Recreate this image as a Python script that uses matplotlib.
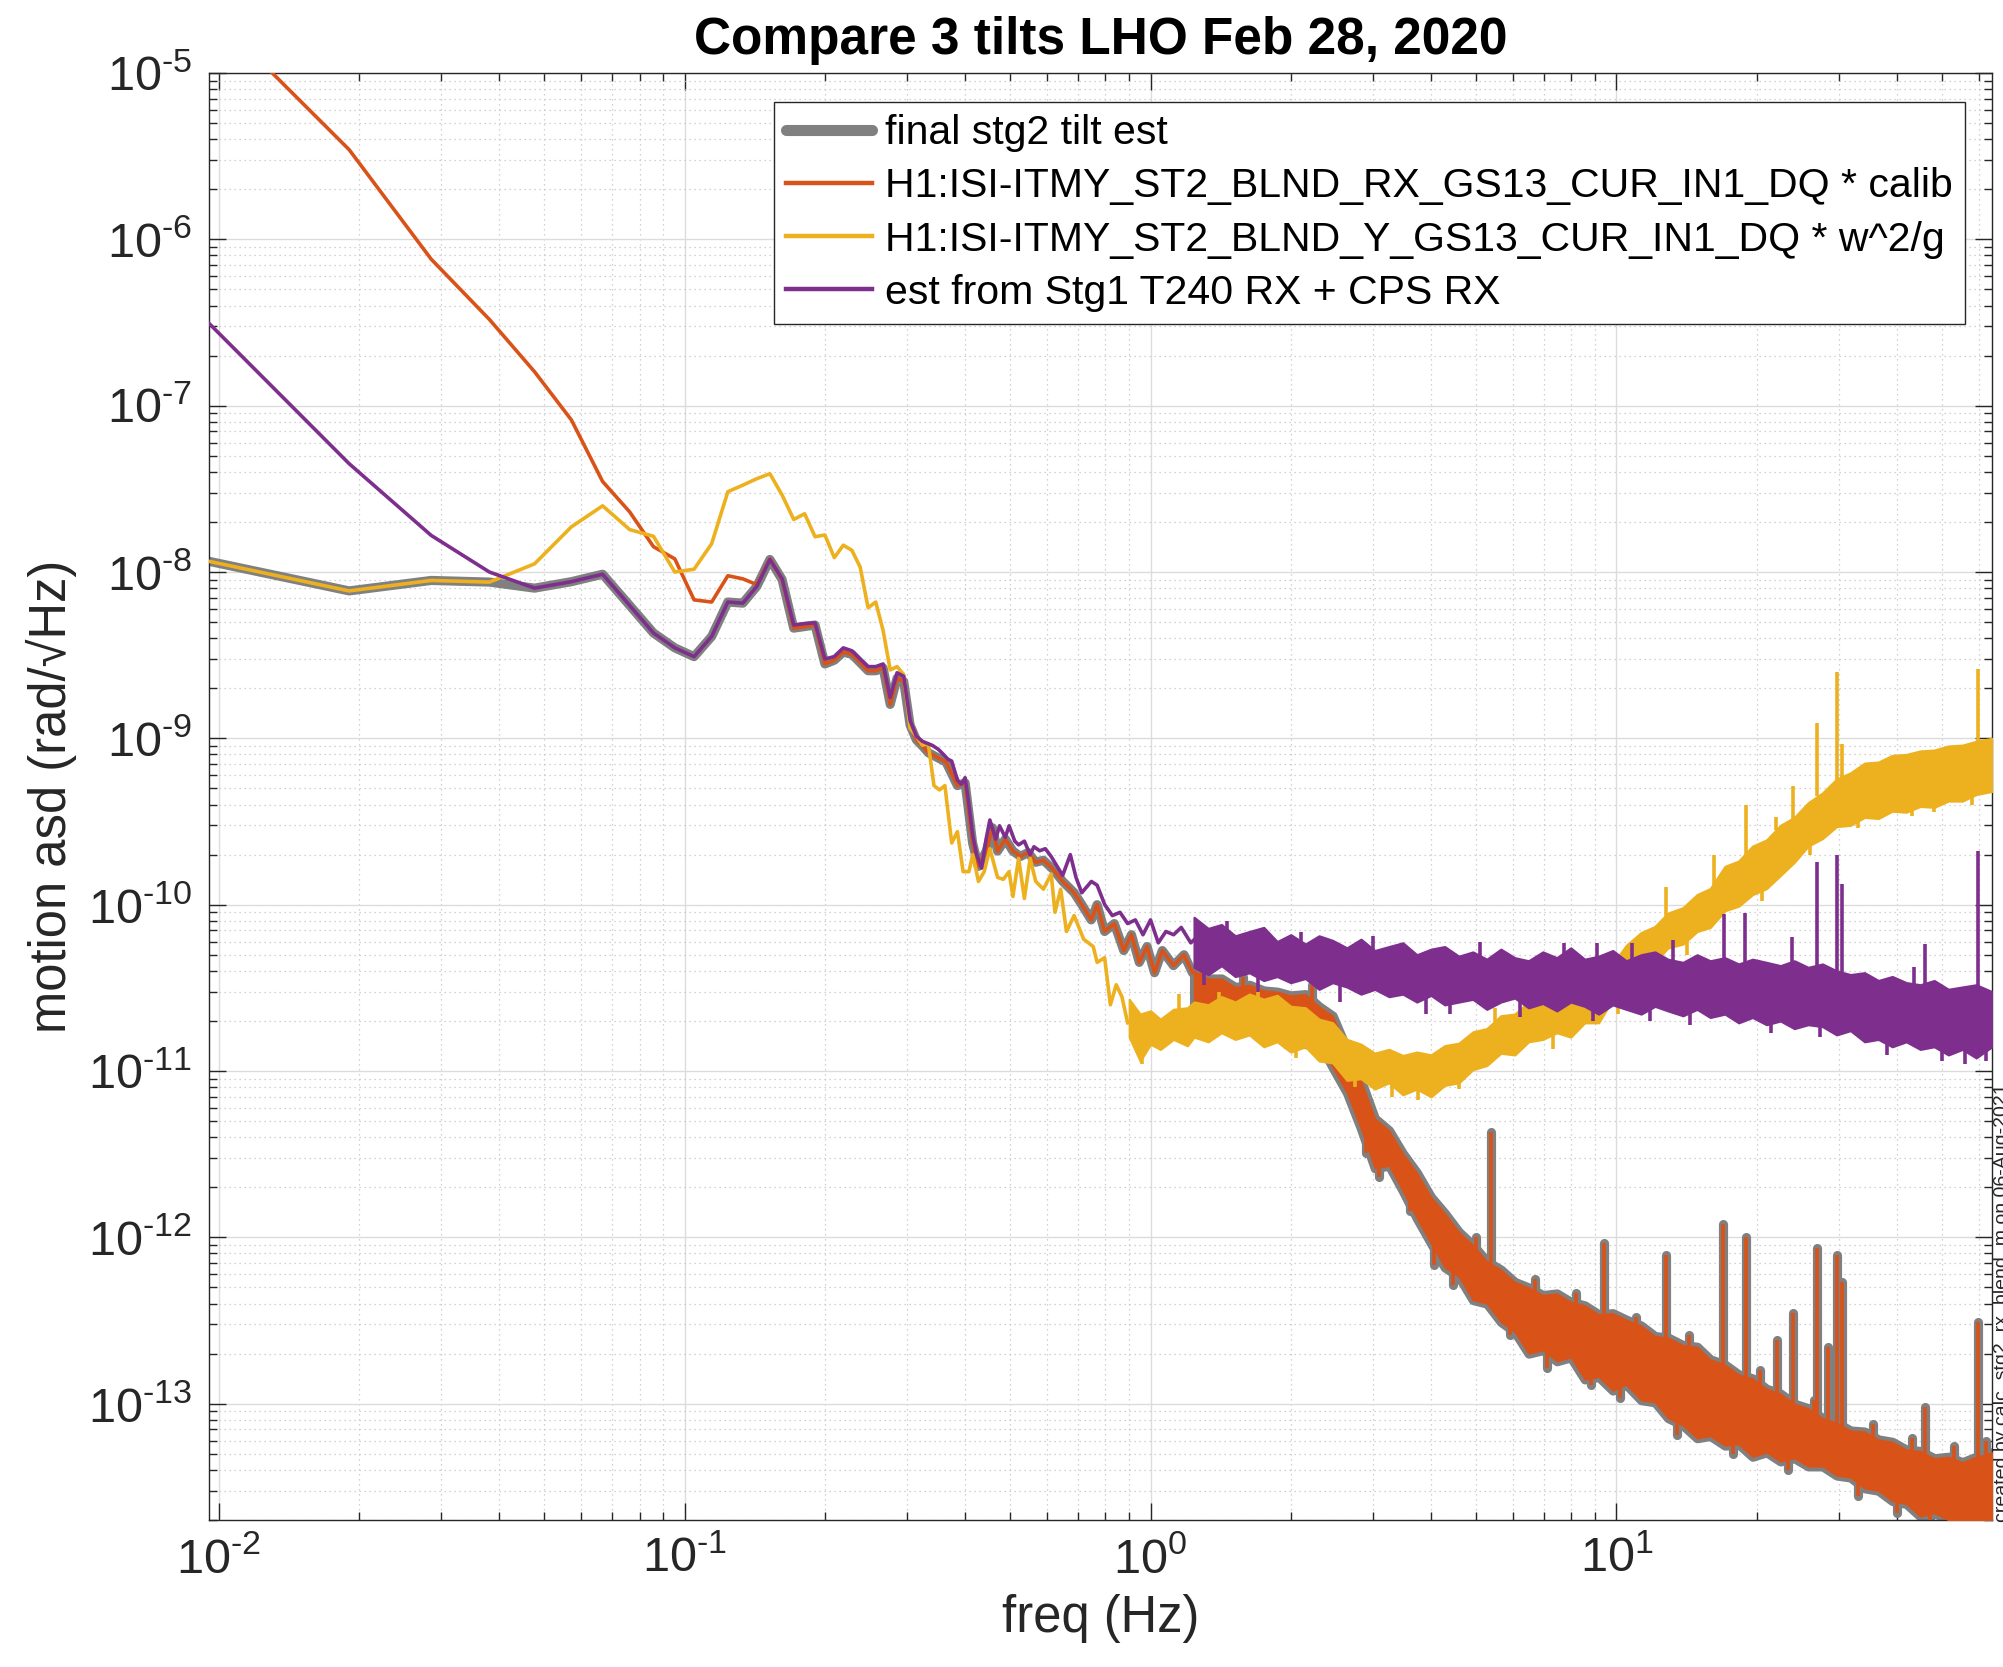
import numpy as np
import matplotlib
matplotlib.use("Agg")
import matplotlib.pyplot as plt
from matplotlib.ticker import LogLocator, FuncFormatter, NullFormatter

plt.rcParams['font.family'] = ['Liberation Sans', 'DejaVu Sans']
plt.rcParams['mathtext.fontset'] = 'custom'
plt.rcParams['mathtext.rm'] = 'Liberation Sans'
plt.rcParams['mathtext.it'] = 'Liberation Sans:italic'
plt.rcParams['mathtext.bf'] = 'Liberation Sans:bold'
plt.rcParams['axes.unicode_minus'] = False

# ---------------- data ----------------
BIN_WIDTH = 1 / 105.0   # Hz, frequency resolution of the ASDs

labels = [
    'final stg2 tilt est',
    'H1:ISI-ITMY_ST2_BLND_RX_GS13_CUR_IN1_DQ * calib',
    'H1:ISI-ITMY_ST2_BLND_Y_GS13_CUR_IN1_DQ * w^2/g',
    'est from Stg1 T240 RX + CPS RX',
]

# low-frequency bins (k = 1, 2, 3 ...) , rad/rtHz
orange_bins = [2.4e-5, 3.46e-6, 7.6e-7, 3.3e-7, 1.6e-7, 8.2e-8, 3.5e-8, 2.3e-8, 1.42e-8, 1.2e-8,
               6.8e-9, 6.6e-9, 9.5e-9, 9.1e-9, 8.4e-9, 1.2e-8, 9.0e-9, 4.6e-9, 4.7e-9, 4.8e-9,
               2.8e-9, 2.95e-9, 3.3e-9, 3.2e-9, 2.85e-9, 2.55e-9, 2.55e-9, 2.65e-9, 1.6e-9, 2.3e-9,
               2.2e-9, 1.2e-9, 9.8e-10, 9.0e-10, 8.2e-10]
yellow_bins = [1.16e-8, 7.7e-9, 8.9e-9, 8.7e-9, 1.12e-8, 1.87e-8, 2.5e-8, 1.8e-8, 1.64e-8, 1.0e-8,
               1.04e-8, 1.48e-8, 3.04e-8, 3.33e-8, 3.64e-8, 3.9e-8, 2.9e-8, 2.07e-8, 2.24e-8, 1.63e-8,
               1.67e-8, 1.22e-8, 1.45e-8, 1.35e-8, 1.07e-8, 6.1e-9, 6.6e-9, 4.45e-9, 2.58e-9, 2.7e-9,
               2.42e-9, 1.15e-9, 1.03e-9, 9.1e-10, 9.3e-10, 5.2e-10, 4.9e-10, 5.2e-10]
purple_bins = [3.13e-7, 4.48e-8, 1.66e-8, 1.0e-8, 8.0e-9, 8.75e-9, 9.7e-9, 6.3e-9, 4.3e-9, 3.5e-9,
               3.1e-9, 4.1e-9, 6.6e-9, 6.5e-9, 8.2e-9, 1.19e-8, 9.1e-9, 4.8e-9, 4.9e-9, 4.95e-9,
               3.0e-9, 3.1e-9, 3.5e-9, 3.36e-9, 3.0e-9, 2.7e-9, 2.7e-9, 2.8e-9, 1.76e-9, 2.48e-9,
               2.36e-9, 1.28e-9, 1.03e-9, 9.6e-10]

# mid-frequency traces (freq Hz, value)
orange_mid_f = [0.364, 0.385, 0.400, 0.415, 0.427, 0.444, 0.458, 0.4695, 0.488, 0.5065, 0.526, 0.546,
                0.567, 0.589, 0.618, 0.648, 0.6855, 0.712, 0.746, 0.768, 0.797, 0.836, 0.876, 0.910,
                0.946, 0.983, 1.02, 1.06, 1.12, 1.18, 1.23]
orange_mid_v = [7.2e-10, 5.2e-10, 5.4e-10, 2.35e-10, 1.7e-10, 2.1e-10, 2.9e-10, 2.1e-10, 2.48e-10, 2.1e-10,
                1.95e-10, 2.06e-10, 1.8e-10, 1.85e-10, 1.63e-10, 1.38e-10, 1.18e-10, 1.0e-10, 8.1e-11, 1.0e-10,
                6.9e-11, 7.7e-11, 5.3e-11, 6.6e-11, 4.5e-11, 5.6e-11, 3.9e-11, 5.3e-11, 4.3e-11, 5.0e-11, 3.9e-11]
yellow_mid_f = [0.3743, 0.385, 0.396, 0.4075, 0.4154, 0.4272, 0.4395, 0.452, 0.4695, 0.483, 0.497,
                0.5065, 0.521, 0.536, 0.5515, 0.567, 0.589, 0.612, 0.6236, 0.6414, 0.66, 0.6855,
                0.7186, 0.7534, 0.768, 0.797, 0.820, 0.844, 0.868, 0.893]
yellow_mid_v = [2.35e-10, 2.75e-10, 1.58e-10, 1.58e-10, 2.0e-10, 1.38e-10, 1.58e-10, 2.17e-10, 1.46e-10,
                1.42e-10, 1.58e-10, 1.12e-10, 1.9e-10, 1.09e-10, 1.9e-10, 1.38e-10, 1.24e-10, 1.53e-10,
                9.0e-11, 1.24e-10, 6.9e-11, 8.6e-11, 6.2e-11, 5.6e-11, 4.5e-11, 4.8e-11, 2.5e-11,
                3.3e-11, 2.8e-11, 1.95e-11]
purple_mid_f = [0.3404, 0.3503, 0.3603, 0.3673, 0.3743, 0.385, 0.3925, 0.3999, 0.4075, 0.4154, 0.4233,
                0.4339, 0.4437, 0.452, 0.4653, 0.4741, 0.4878, 0.497, 0.5113, 0.521, 0.536, 0.5515,
                0.562, 0.578, 0.5946, 0.6118, 0.6295, 0.6477, 0.6727, 0.6918, 0.7118, 0.7464, 0.768,
                0.7975, 0.828, 0.86, 0.893, 0.9277, 0.9634, 1.0, 1.039, 1.079, 1.121, 1.164, 1.22, 1.275]
purple_mid_v = [9.06e-10, 8.6e-10, 7.94e-10, 7.5e-10, 7.3e-10, 5.6e-10, 5.3e-10, 5.8e-10, 4.0e-10, 2.6e-10,
                2.0e-10, 1.66e-10, 2.48e-10, 3.23e-10, 2.48e-10, 2.98e-10, 2.54e-10, 2.98e-10, 2.41e-10,
                2.29e-10, 2.41e-10, 2.0e-10, 2.23e-10, 2.11e-10, 2.17e-10, 1.95e-10, 1.71e-10, 1.5e-10,
                2.0e-10, 1.46e-10, 1.18e-10, 1.38e-10, 1.31e-10, 1.0e-10, 8.6e-11, 9.0e-11, 7.7e-11,
                8.1e-11, 6.6e-11, 8.1e-11, 5.9e-11, 6.9e-11, 6.6e-11, 7.3e-11, 5.9e-11, 6.6e-11]

# high-frequency noisy bands: shared frequency list, lower / upper edges of each band
hf_f = [1.24, 1.33, 1.42, 1.52, 1.63, 1.75, 1.87, 2.0, 2.15, 2.3, 2.46, 2.64, 2.83, 3.03, 3.25, 3.48,
        3.73, 4.0, 4.28, 4.59, 4.92, 5.27, 5.65, 6.05, 6.48, 6.95, 7.45, 7.98, 8.55, 9.16, 9.82, 10.5,
        11.3, 12.1, 12.9, 13.9, 14.9, 15.9, 17.1, 18.3, 19.6, 21.0, 22.5, 24.1, 25.8, 27.7, 29.7, 31.8,
        34.1, 36.5, 39.1, 41.9, 44.9, 48.1, 51.6, 55.3, 59.2, 64.0]

orange_band_lo = [2.1e-11, 2.3e-11, 2.05e-11, 2.2e-11, 1.85e-11, 1.95e-11, 1.75e-11, 1.85e-11, 1.45e-11,
                  1.5e-11, 1.05e-11, 7.4e-12, 4.5e-12, 2.6e-12, 2.7e-12, 1.9e-12, 1.3e-12, 9.2e-13, 6.6e-13,
                  5.8e-13, 4.2e-13, 4.0e-13, 3.1e-13, 2.7e-13, 2.0e-13, 2.1e-13, 1.8e-13, 1.9e-13, 1.4e-13,
                  1.45e-13, 1.2e-13, 1.3e-13, 1.05e-13, 1.02e-13, 8.2e-14, 7.4e-14, 6.2e-14, 6.4e-14, 5.6e-14,
                  5.7e-14, 4.8e-14, 5.1e-14, 4.5e-14, 4.7e-14, 4.2e-14, 4.2e-14, 3.7e-14, 3.6e-14, 3.1e-14,
                  3.0e-14, 2.6e-14, 2.5e-14, 2.1e-14, 2.2e-14, 2.0e-14, 2.0e-14, 1.9e-14, 1.95e-14]
orange_band_hi = [4.0e-11, 3.6e-11, 3.6e-11, 3.2e-11, 3.3e-11, 3.05e-11, 3.0e-11, 2.85e-11, 2.9e-11,
                  2.45e-11, 2.15e-11, 1.35e-11, 8.8e-12, 5.2e-12, 4.4e-12, 3.2e-12, 2.45e-12, 1.75e-12,
                  1.4e-12, 1.08e-12, 9.0e-13, 7.2e-13, 6.4e-13, 5.4e-13, 5.0e-13, 4.5e-13, 4.6e-13, 4.1e-13,
                  3.9e-13, 3.45e-13, 3.5e-13, 3.2e-13, 2.95e-13, 2.55e-13, 2.5e-13, 2.25e-13, 2.2e-13, 1.85e-13,
                  1.72e-13, 1.5e-13, 1.42e-13, 1.23e-13, 1.15e-13, 1.0e-13, 9.4e-14, 8.2e-14, 7.7e-14, 6.9e-14,
                  6.8e-14, 6.1e-14, 5.9e-14, 5.3e-14, 5.2e-14, 4.7e-14, 4.8e-14, 4.45e-14, 4.8e-14, 5.1e-14]
# vertical excursions out of the band: (freq, start, end)
orange_spike_f = [5.39, 9.42, 12.75, 16.9, 18.97, 22.1, 23.9, 26.99, 29.8, 30.5, 45.9, 59.6,
                  1.29, 1.58, 1.95, 2.22, 2.9, 3.1, 3.6, 4.05, 4.45, 5.0, 5.9, 6.7, 7.1, 8.2, 8.8, 10.2,
                  11.0, 13.5, 14.3, 17.8, 20.3, 23.3, 26.5, 28.5, 33.0, 35.5, 40.0, 43.0, 47.0, 53.0,
                  57.0, 62.0]
orange_spike_base = [7e-13, 3.4e-13, 2.5e-13, 1.7e-13, 1.45e-13, 1.15e-13, 1.0e-13, 8.5e-14, 7.4e-14, 7.2e-14,
                     5.0e-14, 4.7e-14,
                     3.0e-11, 2.6e-11, 2.3e-11, 2.2e-11, 6.0e-12, 4.0e-12, 2.6e-12, 1.4e-12, 1.0e-12,
                     7.0e-13, 4.5e-13, 3.5e-13, 3.0e-13, 2.7e-13, 2.3e-13, 2.0e-13, 2.0e-13, 1.5e-13,
                     1.4e-13, 1.0e-13, 9.0e-14, 7.0e-14, 6.0e-14, 5.5e-14, 4.6e-14, 4.5e-14, 3.8e-14,
                     3.5e-14, 3.2e-14, 3.1e-14, 3.0e-14, 3.2e-14]
orange_spike_v = [4.3e-12, 9.2e-13, 7.8e-13, 1.21e-12, 1.0e-12, 2.4e-13, 3.5e-13, 8.6e-13, 7.8e-13, 5.4e-13,
                  9.6e-14, 3.1e-13,
                  4.3e-11, 3.7e-11, 1.45e-11, 3.3e-11, 3.2e-12, 2.3e-12, 1.45e-12, 6.8e-13, 5.2e-13,
                  1.0e-12, 2.6e-13, 5.6e-13, 1.65e-13, 4.6e-13, 1.3e-13, 1.08e-13, 3.3e-13, 6.5e-14,
                  2.6e-13, 5.0e-14, 1.6e-13, 4.0e-14, 1.05e-13, 2.2e-13, 2.8e-14, 7.6e-14, 2.2e-14,
                  6.2e-14, 1.95e-14, 5.6e-14, 1.9e-14, 6.0e-14]

purple_band_lo = [4.2e-11, 3.8e-11, 4.3e-11, 3.7e-11, 3.9e-11, 3.5e-11, 3.7e-11, 3.4e-11, 3.6e-11, 3.1e-11,
                  3.4e-11, 3.2e-11, 2.9e-11, 3.1e-11, 2.8e-11, 2.9e-11, 2.6e-11, 2.85e-11, 2.5e-11, 2.6e-11,
                  2.7e-11, 2.35e-11, 2.6e-11, 2.75e-11, 2.4e-11, 2.55e-11, 2.3e-11, 2.6e-11, 2.45e-11, 2.2e-11,
                  2.5e-11, 2.35e-11, 2.2e-11, 2.45e-11, 2.3e-11, 2.15e-11, 2.35e-11, 2.1e-11, 2.2e-11,
                  1.95e-11, 2.1e-11, 1.9e-11, 2.0e-11, 1.8e-11, 1.9e-11, 1.85e-11, 1.65e-11, 1.75e-11,
                  1.5e-11, 1.55e-11, 1.4e-11, 1.5e-11, 1.35e-11, 1.4e-11, 1.25e-11, 1.35e-11, 1.2e-11, 1.4e-11]
purple_band_hi = [8.4e-11, 7.2e-11, 7.6e-11, 6.5e-11, 6.9e-11, 7.3e-11, 6.0e-11, 6.6e-11, 5.8e-11, 6.5e-11,
                  6.1e-11, 5.5e-11, 6.2e-11, 5.3e-11, 5.6e-11, 5.9e-11, 5.0e-11, 5.4e-11, 5.6e-11, 4.9e-11,
                  5.2e-11, 4.7e-11, 5.4e-11, 4.8e-11, 4.6e-11, 5.2e-11, 4.8e-11, 5.5e-11, 4.7e-11, 4.9e-11,
                  5.3e-11, 4.6e-11, 5.0e-11, 5.2e-11, 4.7e-11, 4.5e-11, 5.0e-11, 4.6e-11, 4.8e-11, 4.4e-11,
                  4.7e-11, 4.5e-11, 4.3e-11, 4.6e-11, 4.2e-11, 4.4e-11, 4.0e-11, 3.8e-11, 3.9e-11, 3.5e-11,
                  3.7e-11, 3.4e-11, 3.3e-11, 3.5e-11, 3.1e-11, 3.2e-11, 3.3e-11, 3.0e-11]
purple_spike_f = [7.72, 17.0, 18.9, 23.8, 26.98, 29.7, 30.5, 46.0, 59.6,
                  1.3, 1.46, 1.7, 2.1, 2.55, 3.0, 3.9, 4.4, 5.1, 6.2, 8.9, 9.1, 10.8, 11.8, 13.2, 14.4,
                  21.5, 27.4, 38.0, 43.5, 50.0, 56.0, 62.0]
purple_spike_base = [4.7e-11, 4.5e-11, 4.5e-11, 4.3e-11, 3.9e-11, 3.8e-11, 3.8e-11, 3.2e-11, 3.1e-11,
                     6.0e-11, 6.0e-11, 4.5e-11, 5.0e-11, 4.0e-11, 4.5e-11, 3.5e-11, 3.5e-11, 4.0e-11,
                     3.5e-11, 3.5e-11, 4.0e-11, 4.0e-11, 3.2e-11, 4.0e-11, 3.0e-11, 3.0e-11, 2.8e-11,
                     2.4e-11, 2.5e-11, 2.2e-11, 2.2e-11, 2.2e-11]
purple_spike_v = [5.9e-11, 8.8e-11, 8.9e-11, 6.4e-11, 1.8e-10, 2.0e-10, 1.33e-10, 5.8e-11, 2.1e-10,
                  3.3e-11, 8.0e-11, 3.0e-11, 6.9e-11, 2.6e-11, 6.5e-11, 2.2e-11, 2.2e-11, 6.0e-11,
                  2.1e-11, 2.0e-11, 5.9e-11, 5.9e-11, 2.0e-11, 6.1e-11, 1.9e-11, 1.7e-11, 1.6e-11,
                  1.25e-11, 4.2e-11, 1.15e-11, 1.1e-11, 1.15e-11]

yellow_pre_f = [0.90, 0.95, 1.0, 1.05, 1.12, 1.2]
yellow_pre_lo = [1.6e-11, 1.15e-11, 1.45e-11, 1.35e-11, 1.55e-11, 1.42e-11]
yellow_pre_hi = [2.7e-11, 2.2e-11, 2.3e-11, 2.05e-11, 2.35e-11, 2.4e-11]
yellow_band_lo = [1.6e-11, 1.5e-11, 1.7e-11, 1.55e-11, 1.65e-11, 1.4e-11, 1.5e-11, 1.3e-11, 1.4e-11,
                  1.15e-11, 1.12e-11, 8.8e-12, 9.0e-12, 7.8e-12, 8.5e-12, 7.2e-12, 7.8e-12, 7.0e-12, 8.2e-12,
                  8.5e-12, 1.02e-11, 1.08e-11, 1.28e-11, 1.25e-11, 1.5e-11, 1.55e-11, 1.7e-11, 1.6e-11,
                  1.95e-11, 1.95e-11, 2.7e-11, 3.4e-11, 4.1e-11, 4.5e-11, 5.5e-11, 5.8e-11, 6.9e-11, 7.3e-11,
                  9.2e-11, 9.8e-11, 1.15e-10, 1.25e-10, 1.5e-10, 1.8e-10, 2.25e-10, 2.5e-10, 2.95e-10,
                  3.0e-10, 3.35e-10, 3.3e-10, 3.65e-10, 3.6e-10, 3.9e-10, 3.85e-10, 4.2e-10, 4.2e-10,
                  4.6e-10, 4.8e-10]
yellow_band_hi = [2.6e-11, 2.5e-11, 2.8e-11, 2.6e-11, 2.9e-11, 2.7e-11, 2.85e-11, 2.45e-11, 2.4e-11,
                  2.05e-11, 1.95e-11, 1.55e-11, 1.45e-11, 1.28e-11, 1.35e-11, 1.24e-11, 1.3e-11, 1.25e-11,
                  1.42e-11, 1.47e-11, 1.72e-11, 1.8e-11, 2.15e-11, 2.2e-11, 2.6e-11, 2.6e-11, 2.95e-11,
                  2.9e-11, 3.1e-11, 3.05e-11, 4.4e-11, 5.7e-11, 6.8e-11, 7.4e-11, 8.9e-11, 9.6e-11, 1.15e-10,
                  1.25e-10, 1.7e-10, 1.83e-10, 2.25e-10, 2.45e-10, 3.0e-10, 3.35e-10, 4.1e-10, 4.7e-10,
                  5.7e-10, 6.2e-10, 7.1e-10, 7.2e-10, 7.9e-10, 8.0e-10, 8.4e-10, 8.5e-10, 9.0e-10, 9.1e-10,
                  9.6e-10, 1.0e-9]
yellow_spike_f = [12.76, 16.2, 18.95, 22.0, 23.9, 26.96, 29.7, 30.5, 59.6,
                  0.96, 1.15, 1.4, 1.7, 2.05, 2.75, 3.3, 3.75, 4.6, 5.5, 7.3, 8.2, 10.1, 11.5, 14.2,
                  20.5, 26.0, 33.0, 43.0, 48.0, 58.0]
yellow_spike_base = [7.5e-11, 1.3e-10, 1.9e-10, 2.8e-10, 3.2e-10, 4.5e-10, 5.5e-10, 5.8e-10, 9.5e-10,
                     1.5e-11, 2.0e-11, 2.2e-11, 2.3e-11, 1.8e-11, 1.2e-11, 1.0e-11, 1.0e-11, 1.2e-11,
                     1.6e-11, 2.0e-11, 2.4e-11, 3.5e-11, 5.5e-11, 7.5e-11, 1.6e-10, 3.0e-10, 5.0e-10,
                     6.0e-10, 6.5e-10, 7.0e-10]
yellow_spike_v = [1.27e-10, 2.0e-10, 4.0e-10, 3.35e-10, 5.2e-10, 1.24e-9, 2.5e-9, 9.2e-10, 2.6e-9,
                  1.1e-11, 2.9e-11, 3.0e-11, 3.2e-11, 1.2e-11, 8.0e-12, 7.0e-12, 6.7e-12, 7.8e-12,
                  2.4e-11, 1.35e-11, 3.4e-11, 2.2e-11, 3.5e-11, 5.0e-11, 1.05e-10, 2.0e-10, 2.9e-10,
                  3.4e-10, 3.6e-10, 4.0e-10]

# ---------------- styling ----------------
C_GRAY = '#808080'
C_ORANGE = '#D95319'
C_YELLOW = '#EDB120'
C_PURPLE = '#7E2F8E'
AX_COL = '#262626'
LW_THIN = 2.6
LW_GRAY = 6.6

fig = plt.figure(figsize=(20.03, 16.67), dpi=100)
ax = fig.add_axes([0.1043, 0.0882, 0.8902, 0.868])
ax.set_xscale('log')
ax.set_yscale('log')


def bins_f(n):
    return BIN_WIDTH * np.arange(1, n + 1)


# gray "final" estimate: blend of yellow (lowest bins), purple, then orange
g_f = np.concatenate([bins_f(len(orange_bins)), orange_mid_f])
g_v = np.concatenate([yellow_bins[:4], purple_bins[4:16], orange_bins[16:], orange_mid_v])
gray_line, = ax.plot(g_f, g_v, color=C_GRAY, lw=LW_GRAY, solid_joinstyle='round',
                     solid_capstyle='round', zorder=2, label=labels[0])
ax.fill_between(hf_f, orange_band_lo, orange_band_hi, facecolor=C_GRAY, edgecolor=C_GRAY,
                lw=LW_GRAY, joinstyle='round', zorder=2)
ax.vlines(orange_spike_f, orange_spike_base, orange_spike_v, color=C_GRAY, lw=LW_GRAY,
          capstyle='round', zorder=2)

# orange
o_f = np.concatenate([bins_f(len(orange_bins)), orange_mid_f])
o_v = np.concatenate([orange_bins, orange_mid_v])
orange_line, = ax.plot(o_f, o_v, color=C_ORANGE, lw=LW_THIN, zorder=3, label=labels[1])
ax.fill_between(hf_f, orange_band_lo, orange_band_hi, facecolor=C_ORANGE, edgecolor=C_ORANGE,
                lw=1.0, zorder=3)
ax.vlines(orange_spike_f, orange_spike_base, orange_spike_v, color=C_ORANGE, lw=LW_THIN, zorder=3)

# yellow
y_f = np.concatenate([bins_f(len(yellow_bins)), yellow_mid_f])
y_v = np.concatenate([yellow_bins, yellow_mid_v])
yellow_line, = ax.plot(y_f, y_v, color=C_YELLOW, lw=LW_THIN, zorder=4, label=labels[2])
yb_f = np.concatenate([yellow_pre_f, hf_f])
ax.fill_between(yb_f, np.concatenate([yellow_pre_lo, yellow_band_lo]),
                np.concatenate([yellow_pre_hi, yellow_band_hi]),
                facecolor=C_YELLOW, edgecolor=C_YELLOW, lw=1.6, zorder=4)
ax.vlines(yellow_spike_f, yellow_spike_base, yellow_spike_v, color=C_YELLOW, lw=LW_THIN, zorder=4)

# purple
p_f = np.concatenate([bins_f(len(purple_bins)), purple_mid_f])
p_v = np.concatenate([purple_bins, purple_mid_v])
purple_line, = ax.plot(p_f, p_v, color=C_PURPLE, lw=LW_THIN, zorder=5, label=labels[3])
ax.fill_between(hf_f, purple_band_lo, purple_band_hi, facecolor=C_PURPLE, edgecolor=C_PURPLE,
                lw=1.6, zorder=5)
ax.vlines(purple_spike_f, purple_spike_base, purple_spike_v, color=C_PURPLE, lw=LW_THIN, zorder=5)

ax.set_xlim(BIN_WIDTH, 64)
ax.set_ylim(2e-14, 1e-5)


def decade_label(v, pos):
    e = int(round(np.log10(v)))
    s = ('\u2010' + str(-e)) if e < 0 else str(e)
    return '$\\mathdefault{10^{' + s + '}}$'


# ticks & grid
for axis in (ax.xaxis, ax.yaxis):
    axis.set_major_locator(LogLocator(base=10, numticks=30))
    axis.set_minor_locator(LogLocator(base=10, subs=np.arange(2, 10), numticks=300))
    axis.set_minor_formatter(NullFormatter())
    axis.set_major_formatter(FuncFormatter(decade_label))
ax.tick_params(which='both', direction='in', top=True, right=True, colors=AX_COL, width=1.0)
ax.tick_params(which='major', length=12, labelsize=35, pad=12)
ax.tick_params(which='minor', length=6)
ax.grid(which='major', color='#dcdcdc', lw=1.0, ls='-')
ax.grid(which='minor', color='#c4c4c4', lw=0.9, ls=(0, (1, 3)))
ax.set_axisbelow(True)
for sp in ax.spines.values():
    sp.set_color(AX_COL)
    sp.set_linewidth(1.0)

ax.set_xlabel('freq (Hz)', fontsize=36.5, color=AX_COL, labelpad=8)
ax.set_ylabel('motion asd (rad/\u221aHz)', fontsize=36.5, color=AX_COL, labelpad=8)
ax.set_title('Compare 3 tilts LHO Feb 28, 2020', fontsize=37, fontweight='bold', pad=14)

leg = ax.legend(handles=[gray_line, orange_line, yellow_line, purple_line], loc='upper right',
                bbox_to_anchor=(0.985, 0.980), borderaxespad=0, fontsize=29.5, frameon=True,
                fancybox=False, framealpha=1, edgecolor=AX_COL, handlelength=2.1,
                handletextpad=0.32, labelspacing=0.37, borderpad=0.3)
leg.get_frame().set_linewidth(1.0)
leg.legend_handles[0].set_linewidth(8)
for h in leg.legend_handles[1:]:
    h.set_linewidth(3.2)

fig.text(0.9955, 0.087, 'created by calc_stg2_rx_blend_m on 06-Aug-2021', rotation=90,
         fontsize=14, ha='left', va='bottom', color=AX_COL)

fig.savefig('out.png', dpi=100)
